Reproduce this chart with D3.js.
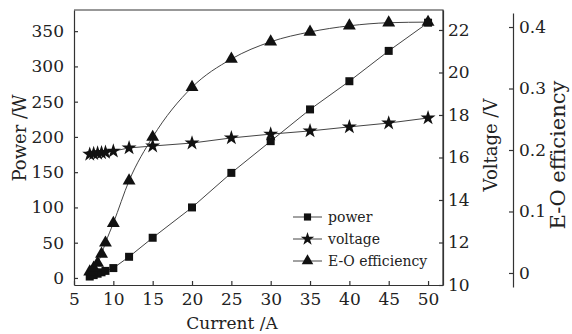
<!DOCTYPE html>
<html>
<head>
<meta charset="utf-8">
<script src="https://cdn.jsdelivr.net/npm/d3@7"></script>
<style>
  body { margin: 0; background: #fff; }
  svg text { font-family: "DejaVu Serif", serif; fill: #222; }
  .axis path, .axis line { stroke: #333; stroke-width: 1.2; }
</style>
</head>
<body>
<div id="chart"></div>
<script>
// data
const currents = [7, 7.5, 8, 8.5, 9, 10, 12, 15, 20, 25, 30, 35, 40, 45, 50];
const power = [2, 4, 6, 8, 10, 14, 30, 57, 100, 149, 194, 239, 279, 322, 362];
const voltage = [16.15, 16.18, 16.2, 16.22, 16.24, 16.3, 16.45, 16.54, 16.68, 16.92, 17.1, 17.25, 17.44, 17.62, 17.86];
const efficiency = [0.002, 0.008, 0.016, 0.031, 0.049, 0.081, 0.15, 0.221, 0.302, 0.348, 0.376, 0.392, 0.402, 0.407, 0.408];

const xTicks = [5, 10, 15, 20, 25, 30, 35, 40, 45, 50];
const powerTicks = [0, 50, 100, 150, 200, 250, 300, 350];
const voltageTicks = [10, 12, 14, 16, 18, 20, 22];
const effTicks = [0, 0.1, 0.2, 0.3, 0.4];
const legendNames = ['power', 'voltage', 'E-O efficiency'];

const width = 572, height = 334;
const plot = { left: 74, right: 443, top: 10, bottom: 285 };
const serif = '"DejaVu Serif", serif';

const svg = d3.select('#chart').append('svg')
  .attr('width', width).attr('height', height);

const x = d3.scaleLinear().domain([5, 51.9]).range([plot.left, plot.right]);
const yP = d3.scaleLinear().domain([-10, 380]).range([plot.bottom, plot.top]);
const yV = d3.scaleLinear().domain([10, 22.94]).range([plot.bottom, plot.top]);
const yE = d3.scaleLinear().domain([-0.0228, 0.4228]).range([287, 13]);

// frame (top + right)
svg.append('path')
  .attr('d', `M${plot.left},${plot.top}H${plot.right}V${plot.bottom}`)
  .attr('fill', 'none').attr('stroke', '#333').attr('stroke-width', 1.2);

function styleAxis(g) {
  g.attr('font-family', serif).attr('font-size', 17);
  g.select('.domain').attr('stroke-width', 1.4);
  g.selectAll('text').attr('fill', '#222');
}

// x axis
svg.append('g').attr('class', 'axis')
  .attr('transform', `translate(0,${plot.bottom})`)
  .call(d3.axisBottom(x).tickValues(xTicks).tickSizeInner(-4).tickSizeOuter(0).tickPadding(8))
  .call(styleAxis);

// power axis
svg.append('g').attr('class', 'axis')
  .attr('transform', `translate(${plot.left},0)`)
  .call(d3.axisLeft(yP).tickValues(powerTicks).tickSizeInner(-4).tickSizeOuter(0).tickPadding(10))
  .call(styleAxis);

// voltage axis
svg.append('g').attr('class', 'axis')
  .attr('transform', `translate(${plot.right},0)`)
  .call(d3.axisRight(yV).tickValues(voltageTicks).tickSizeInner(-4).tickSizeOuter(0).tickPadding(5))
  .call(styleAxis);

// efficiency axis
svg.append('g').attr('class', 'axis')
  .attr('transform', 'translate(513,0)')
  .call(d3.axisRight(yE).tickValues(effTicks).tickSizeInner(-4).tickSizeOuter(0).tickPadding(6)
    .tickFormat(d => d === 0 ? '0' : d3.format('.1f')(d)))
  .call(styleAxis);

// axis titles
svg.append('text').attr('x', 232).attr('y', 329)
  .attr('text-anchor', 'middle').attr('font-size', 17).text('Current /A');
svg.append('text').attr('transform', 'translate(26,138) rotate(-90)')
  .attr('text-anchor', 'middle').attr('font-size', 18).text('Power /W');
svg.append('text').attr('transform', 'translate(497,145) rotate(-90)')
  .attr('text-anchor', 'middle').attr('font-size', 18).text('Voltage /V');
svg.append('text').attr('transform', 'translate(565,155) rotate(-90)')
  .attr('text-anchor', 'middle').attr('font-size', 21).text('E-O efficiency');

const series = [
  { values: power, y: yP, symbol: d3.symbolSquare, size: 64, curve: d3.curveLinear },
  { values: voltage, y: yV, symbol: d3.symbolStar, size: 70, curve: d3.curveLinear },
  { values: efficiency, y: yE, symbol: d3.symbolTriangle, size: 72, curve: d3.curveMonotoneX }
];

series.forEach(s => {
  const line = d3.line().x((d, i) => x(currents[i])).y(d => s.y(d)).curve(s.curve);
  svg.append('path').datum(s.values)
    .attr('d', line).attr('fill', 'none').attr('stroke', '#444').attr('stroke-width', 1);
  svg.append('g').selectAll('path').data(s.values).enter().append('path')
    .attr('d', d3.symbol().type(s.symbol).size(s.size))
    .attr('transform', (d, i) => `translate(${x(currents[i])},${s.y(d)})`)
    .attr('fill', '#111');
});

// legend
const legend = svg.append('g').attr('transform', 'translate(293,217)');
series.forEach((s, i) => {
  const g = legend.append('g').attr('transform', `translate(0,${i * 22})`);
  g.append('line').attr('x1', 0).attr('x2', 29).attr('y1', 0).attr('y2', 0)
    .attr('stroke', '#444').attr('stroke-width', 1);
  g.append('path').attr('d', d3.symbol().type(s.symbol).size(s.size * 0.8))
    .attr('transform', 'translate(14.5,0)').attr('fill', '#111');
  g.append('text').attr('x', 35).attr('y', 5).attr('font-size', 14).text(legendNames[i]);
});
</script>
</body>
</html>
